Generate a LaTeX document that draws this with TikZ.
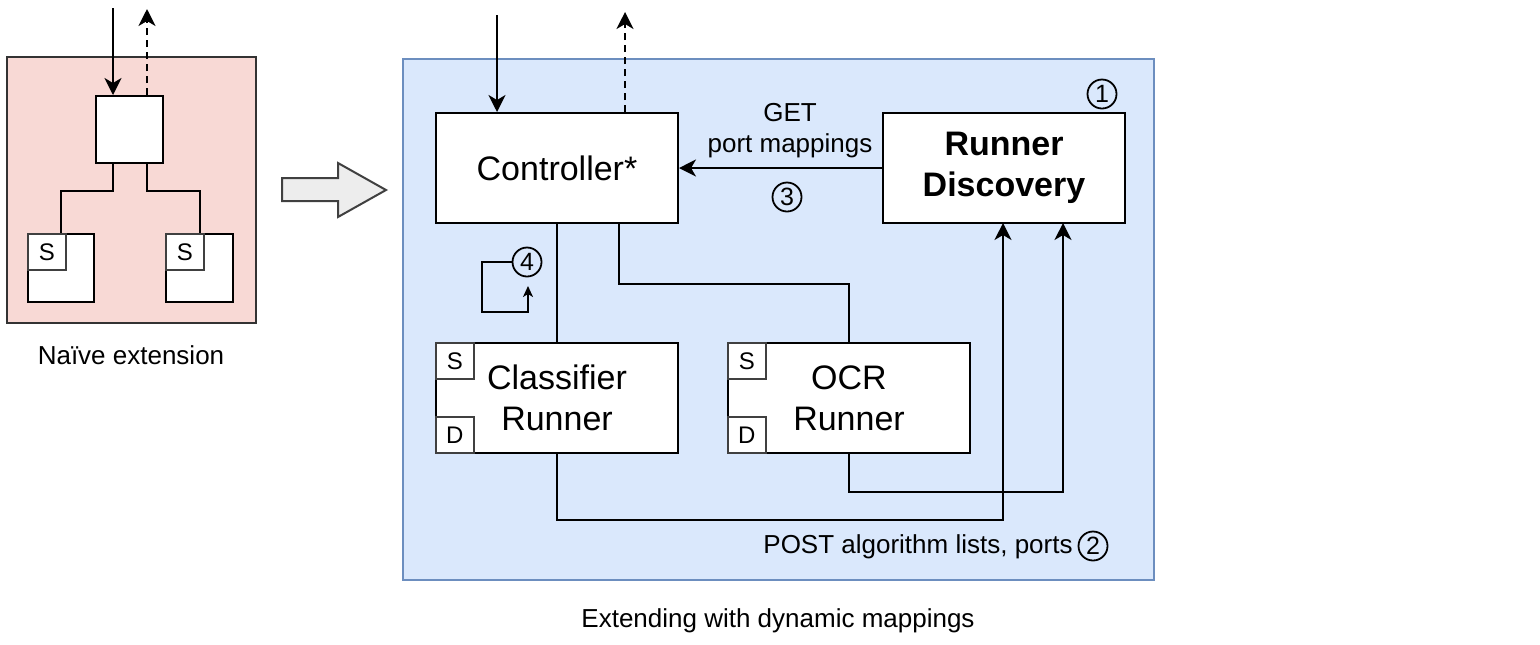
\documentclass[tikz,border=0pt]{standalone}
\usepackage{fontspec}
\setmainfont{Liberation Sans}
\usetikzlibrary{arrows.meta}
\begin{document}
\begin{tikzpicture}[x=0.5pt,y=-0.5pt,
  box/.style={draw=black, fill=white, line width=1pt, inner sep=0pt},
  tag/.style={draw=black!75, fill=white, line width=0.8pt, inner sep=0pt, minimum width=19pt, minimum height=18pt, font=\fontsize{12}{14}\selectfont},
  wire/.style={draw=black, line width=1pt},
  arr/.style={wire, -{Stealth[length=8.5pt,width=8.5pt,inset=2.5pt]}},
  darr/.style={arr, dash pattern=on 3.5pt off 2.5pt},
  smallarr/.style={wire, -{Stealth[length=5.5pt,width=5pt,inset=1.5pt]}},
  num/.style={circle, draw=black, line width=0.9pt, minimum size=14.5pt, inner sep=0pt, font=\fontsize{12.5}{13}\selectfont},
  big/.style={font=\fontsize{17}{20.5}\selectfont, align=center},
  small/.style={font=\fontsize{13}{15.5}\selectfont, align=center},
  panelA/.style={draw=black!80, fill={rgb,255:red,248;green,217;blue,213}, line width=1pt},
  panelB/.style={draw={rgb,255:red,108;green,142;blue,191}, fill={rgb,255:red,218;green,232;blue,252}, line width=1pt},
  bigarrow/.style={draw=black!75, fill=black!7, line width=1pt}
]
\useasboundingbox (0,0) rectangle (1540,644);

% ---------------- left panel ----------------
\node[panelA, minimum width=124.5pt, minimum height=133pt, inner sep=0pt] (pA) at (131.5,190) {};
\node[box, minimum width=33.5pt, minimum height=33.5pt] (hub) at (129.5,129.5) {};
\node[box, minimum width=33pt, minimum height=34pt] (la) at (61,268) {};
\node[box, minimum width=33.5pt, minimum height=34pt] (lb) at (199.5,268) {};
\node[tag, anchor=north west] (lsa) at (la.north west) {S};
\node[tag, anchor=north west] (lsb) at (lb.north west) {S};
\coordinate (inA) at (113,8);
\coordinate (outA) at (147,9);
\draw[arr] (inA) -- (inA |- hub.north);
\draw[darr] (outA |- hub.north) -- (outA);
\draw[wire] (113,163) -- (113,191) -| (la.north);
\draw[wire] (147,163) -- (147,191) -| (lb.north);
\node[small] (capA) at (131,355) {Naïve extension};

% ---------------- big arrow ----------------
\draw[bigarrow] (282,178) -- (338,178) -- (338,163) -- (386,190) -- (338,217) -- (338,201) -- (282,201) -- cycle;

% ---------------- right panel ----------------
\node[panelB, minimum width=375.5pt, minimum height=260.5pt, inner sep=0pt] (pB) at (778.5,319.5) {};

\node[box, big, minimum width=121pt, minimum height=55pt] (ctrl) at (557,168) {Controller*};
\node[box, big, minimum width=121pt, minimum height=55pt, font=\fontsize{17}{20.5}\selectfont\bfseries] (rd) at (1004,168) {Runner\\Discovery};
\node[box, big, minimum width=121pt, minimum height=55pt] (cls) at (557,398) {Classifier\\Runner};
\node[box, big, minimum width=121pt, minimum height=55pt] (ocr) at (849,398) {OCR\\Runner};
\node[tag, anchor=north west] (clsS) at (cls.north west) {S};
\node[tag, anchor=south west] (clsD) at (cls.south west) {D};
\node[tag, anchor=north west] (ocrS) at (ocr.north west) {S};
\node[tag, anchor=south west] (ocrD) at (ocr.south west) {D};

\coordinate (inB) at (497,15);
\coordinate (outB) at (625,12);
\draw[arr] (inB) -- (inB |- ctrl.north);
\draw[darr] (outB |- ctrl.north) -- (outB);

% GET port mappings
\draw[arr] (rd.west) -- (ctrl.east);
\node[small] (getlbl) at (790,131) {GET\\port mappings};
\node[num] (n3) at (787,197) {3};
\node[num] (n1) at (1102,94) {1};

% controller to runners
\draw[wire] (ctrl.south) -- (cls.north);
\draw[wire] (619,223) -- (619,284) -| (ocr.north);

% runners to discovery
\draw[arr] (cls.south) -- (557,520) -| (1003,223);
\draw[arr] (ocr.south) -- (849,492) -| (1063,223);
\node[small, anchor=east, inner sep=0pt] (postlbl) at (1073,547) {POST algorithm lists, ports};
\node[num] (n2) at (1093,546) {2};

% self loop 4
\node[num] (n4) at (527,262) {4};
\coordinate (l4end) at (528,286);
\draw[smallarr] (n4.west) -- (482,262) -- (482,312) -| (l4end);

\node[small] (capB) at (778,621) {Extending with dynamic mappings};
\end{tikzpicture}
\end{document}
